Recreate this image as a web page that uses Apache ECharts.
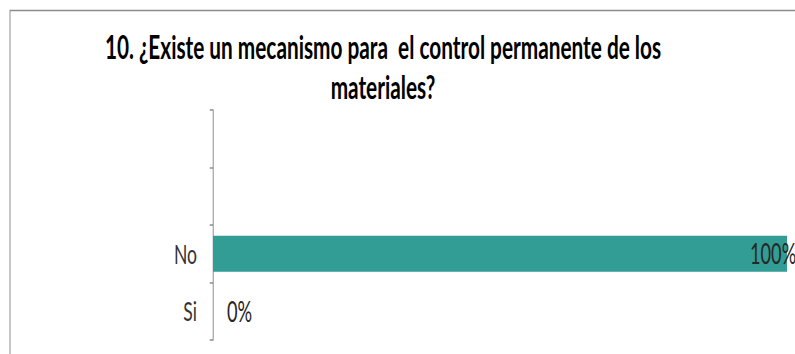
<!DOCTYPE html>
<html>
<head>
<meta charset="utf-8">
<script src="https://cdn.jsdelivr.net/npm/echarts@6/dist/echarts.min.js"></script>
<style>
  html, body { margin: 0; padding: 0; background: #fff; overflow: hidden; }
  #wrap { width: 795px; height: 354px; overflow: hidden; position: relative; }
  /* condensed look: draw wide, squeeze horizontally */
  #chart { position: absolute; left: 0; top: 0; height: 354px; transform-origin: 0 0; }
</style>
</head>
<body>
<div id="wrap"><div id="chart"></div></div>
<script>
const titleText = '10. ¿Existe un mecanismo para  el control permanente de los\nmateriales?';
const categories = ['Si', 'No', '', ''];
const percentValues = [0, 100, null, null];

const SQUEEZE = 0.65;
const W = 795 / SQUEEZE;
const el = document.getElementById('chart');
el.style.width = W + 'px';
el.style.transform = 'scaleX(' + SQUEEZE + ')';

const sx = x => x / SQUEEZE;
const FONT = 'Lato';
const LABEL_GAP = sx(14);

const chart = echarts.init(el, null, { renderer: 'svg', width: W, height: 354 });

const seriesData = percentValues.map(v => {
  if (v === null) return null;
  const item = { value: v };
  if (v >= 100) {
    // full-length bar: pull the label back over the bar end
    item.label = { position: 'right', offset: [-(sx(787) - sx(750)) - LABEL_GAP, 0] };
  }
  return item;
});

chart.setOption({
  animation: false,
  backgroundColor: '#ffffff',
  title: {
    text: titleText,
    left: sx(383),
    top: 27,
    textAlign: 'center',
    padding: 0,
    textStyle: {
      fontFamily: FONT,
      fontSize: 32,
      fontWeight: 'bold',
      color: '#000000',
      lineHeight: 40
    }
  },
  grid: {
    left: sx(213),
    right: W - sx(787),
    top: 110,
    bottom: 14,
    containLabel: false
  },
  xAxis: {
    type: 'value',
    min: 0,
    max: 100,
    show: false
  },
  yAxis: {
    type: 'category',
    data: categories,
    axisLine: { show: true, lineStyle: { color: '#8c8c8c', width: 1.5 } },
    axisTick: { show: true, length: 5, lineStyle: { color: '#8c8c8c', width: 1.5 } },
    axisLabel: {
      fontFamily: FONT,
      fontSize: 27,
      color: '#333333',
      margin: sx(16)
    },
    splitLine: { show: false }
  },
  series: [{
    type: 'bar',
    data: seriesData,
    barWidth: 36,
    itemStyle: { color: '#329D94' },
    label: {
      show: true,
      position: 'right',
      distance: LABEL_GAP,
      formatter: p => p.value + '%',
      fontFamily: FONT,
      fontSize: 28,
      color: '#262626'
    }
  }],
  graphic: [{
    type: 'rect',
    silent: true,
    shape: { x: sx(10), y: 10.5, width: W, height: 400 },
    style: { fill: 'none', stroke: '#8c8c8c', lineWidth: 1.5 }
  }]
});
</script>
</body>
</html>
